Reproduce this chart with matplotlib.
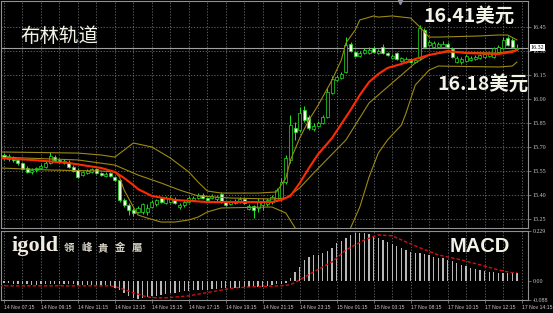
import matplotlib
matplotlib.use('Agg')
import matplotlib.pyplot as plt
from matplotlib.patches import Rectangle

# 15 minute candles, index 0 = 14 Nov 07:15
opens = [15.650, 15.625, 15.637, 15.619, 15.600, 15.569, 15.544, 15.556, 15.569, 15.575,
         15.600, 15.637, 15.619, 15.600, 15.606, 15.575, 15.556, 15.525, 15.537, 15.544,
         15.562, 15.537, 15.519, 15.537, 15.512, 15.494, 15.369, 15.337, 15.306, 15.294,
         15.294, 15.294, 15.325, 15.344, 15.381, 15.350, 15.356, 15.375, 15.325, 15.337,
         15.356, 15.369, 15.381, 15.400, 15.381, 15.381, 15.375, 15.406, 15.362, 15.344,
         15.350, 15.356, 15.375, 15.312, 15.331, 15.319, 15.337, 15.344, 15.356, 15.369,
         15.381, 15.481, 15.619, 15.819, 15.806, 15.931, 15.887, 15.812, 15.831, 15.850,
         15.887, 16.037, 16.119, 16.131, 16.169, 16.344, 16.294, 16.269, 16.287, 16.287,
         16.319, 16.287, 16.325, 16.287, 16.256, 16.287, 16.237, 16.231, 16.250, 16.231,
         16.256, 16.431, 16.337, 16.325, 16.325, 16.325, 16.344, 16.312, 16.231, 16.231,
         16.237, 16.244, 16.250, 16.256, 16.262, 16.269, 16.262, 16.294, 16.319, 16.381,
         16.369, 16.312]
highs = [15.662, 15.656, 15.644, 15.631, 15.606, 15.581, 15.569, 15.575, 15.594, 15.612,
         15.669, 15.650, 15.631, 15.625, 15.619, 15.587, 15.569, 15.550, 15.562, 15.569,
         15.569, 15.544, 15.544, 15.544, 15.519, 15.500, 15.381, 15.350, 15.319, 15.331,
         15.350, 15.344, 15.369, 15.375, 15.387, 15.394, 15.394, 15.387, 15.350, 15.369,
         15.394, 15.394, 15.412, 15.412, 15.387, 15.406, 15.400, 15.419, 15.369, 15.369,
         15.375, 15.387, 15.387, 15.344, 15.337, 15.381, 15.381, 15.381, 15.400, 15.444,
         15.506, 15.650, 15.900, 15.856, 15.950, 15.956, 15.900, 15.850, 15.862, 15.900,
         16.069, 16.144, 16.150, 16.169, 16.387, 16.356, 16.300, 16.300, 16.319, 16.325,
         16.331, 16.312, 16.344, 16.294, 16.281, 16.294, 16.262, 16.262, 16.256, 16.256,
         16.462, 16.444, 16.369, 16.362, 16.356, 16.362, 16.356, 16.325, 16.269, 16.262,
         16.281, 16.269, 16.275, 16.281, 16.287, 16.294, 16.325, 16.337, 16.387, 16.394,
         16.381, 16.344]
lows = [15.619, 15.612, 15.606, 15.587, 15.556, 15.537, 15.531, 15.544, 15.562, 15.569,
        15.594, 15.612, 15.600, 15.594, 15.569, 15.544, 15.506, 15.519, 15.531, 15.537,
        15.531, 15.519, 15.512, 15.512, 15.487, 15.356, 15.325, 15.275, 15.269, 15.287,
        15.281, 15.275, 15.319, 15.331, 15.350, 15.344, 15.350, 15.344, 15.312, 15.325,
        15.350, 15.362, 15.375, 15.375, 15.362, 15.375, 15.362, 15.350, 15.331, 15.337,
        15.344, 15.350, 15.344, 15.306, 15.256, 15.294, 15.306, 15.331, 15.344, 15.362,
        15.369, 15.469, 15.600, 15.744, 15.794, 15.856, 15.806, 15.800, 15.825, 15.844,
        15.881, 16.031, 16.112, 16.125, 16.162, 16.294, 16.262, 16.262, 16.281, 16.281,
        16.287, 16.281, 16.281, 16.269, 16.250, 16.244, 16.231, 16.225, 16.225, 16.225,
        16.244, 16.319, 16.331, 16.319, 16.319, 16.319, 16.319, 16.256, 16.225, 16.219,
        16.231, 16.237, 16.244, 16.250, 16.256, 16.262, 16.256, 16.287, 16.312, 16.331,
        16.319, 16.306]
closes = [15.631, 15.644, 15.619, 15.600, 15.562, 15.544, 15.556, 15.569, 15.581, 15.600,
          15.644, 15.619, 15.606, 15.612, 15.575, 15.550, 15.512, 15.544, 15.550, 15.562,
          15.537, 15.525, 15.531, 15.519, 15.494, 15.369, 15.337, 15.306, 15.287, 15.319,
          15.344, 15.319, 15.356, 15.369, 15.356, 15.381, 15.381, 15.350, 15.337, 15.356,
          15.381, 15.381, 15.400, 15.381, 15.369, 15.394, 15.387, 15.356, 15.337, 15.356,
          15.362, 15.375, 15.350, 15.331, 15.306, 15.356, 15.356, 15.369, 15.387, 15.431,
          15.481, 15.631, 15.837, 15.794, 15.912, 15.869, 15.819, 15.831, 15.850, 15.887,
          16.044, 16.125, 16.137, 16.156, 16.337, 16.300, 16.269, 16.287, 16.306, 16.306,
          16.294, 16.300, 16.287, 16.275, 16.269, 16.250, 16.256, 16.250, 16.231, 16.244,
          16.444, 16.325, 16.356, 16.350, 16.344, 16.344, 16.325, 16.262, 16.256, 16.250,
          16.269, 16.256, 16.262, 16.275, 16.281, 16.287, 16.319, 16.325, 16.369, 16.337,
          16.325, 16.320]

# indicator lines, read as (candle index, value)
upper_idx = [-1, 16, 21, 24, 26, 28, 32, 36, 40, 42, 44, 47, 55, 59, 61, 62, 64, 66, 68,
             71, 73, 74, 76, 77, 80, 81, 84, 88, 90, 92, 94, 103, 107, 109, 111]
upper_val = [15.669, 15.662, 15.650, 15.637, 15.681, 15.725, 15.700, 15.631, 15.544, 15.481,
             15.425, 15.412, 15.412, 15.419, 15.506, 15.619, 15.756, 15.869, 15.962, 16.119,
             16.244, 16.350, 16.431, 16.494, 16.519, 16.512, 16.519, 16.506, 16.450, 16.387,
             16.387, 16.394, 16.400, 16.400, 16.369]
mid_idx = [-1, 16, 24, 29, 34, 38, 42, 49, 58, 61, 64, 67, 74, 79, 84, 89, 92, 96, 107, 111]
mid_val = [15.637, 15.619, 15.587, 15.525, 15.475, 15.431, 15.394, 15.381, 15.375, 15.381,
           15.444, 15.537, 15.744, 15.975, 16.100, 16.225, 16.275, 16.294, 16.287, 16.306]
lower_idx = [-1, 10, 21, 24, 25, 26, 28, 29, 31, 34, 37, 40, 42, 44, 47, 58, 61, 63, 66,
             70, 74, 75, 77, 79, 81, 83, 86, 87, 89, 92, 94, 107, 110, 111]
lower_val = [15.569, 15.556, 15.550, 15.544, 15.512, 15.431, 15.325, 15.275, 15.256, 15.231,
             15.231, 15.244, 15.262, 15.294, 15.319, 15.325, 15.287, 15.194, 15.119, 15.106,
             15.150, 15.194, 15.325, 15.512, 15.662, 15.744, 15.837, 15.912, 16.087, 16.181,
             16.206, 16.200, 16.206, 16.231]
ma_idx = [-1, 6, 14, 21, 24, 26, 28, 29, 32, 37, 44, 51, 58, 60, 62, 64, 66, 68, 71, 73,
          75, 77, 79, 81, 83, 86, 89, 92, 96, 100, 107, 110, 111]
ma_val = [15.631, 15.619, 15.600, 15.569, 15.544, 15.506, 15.462, 15.437, 15.394, 15.369,
          15.356, 15.356, 15.356, 15.369, 15.394, 15.475, 15.569, 15.656, 15.756, 15.844,
          15.931, 16.025, 16.106, 16.156, 16.194, 16.219, 16.250, 16.275, 16.300, 16.287,
          16.281, 16.294, 16.306]

macd_hist = [-0.012, -0.012, -0.013, -0.014, -0.015, -0.016, -0.017, -0.017, -0.016, -0.015,
             -0.013, -0.013, -0.014, -0.014, -0.015, -0.016, -0.018, -0.019, -0.019, -0.019,
             -0.019, -0.020, -0.021, -0.022, -0.032, -0.041, -0.055, -0.069, -0.078, -0.083,
             -0.078, -0.074, -0.071, -0.069, -0.064, -0.060, -0.055, -0.055, -0.050, -0.048,
             -0.046, -0.041, -0.041, -0.041, -0.041, -0.039, -0.037, -0.035, -0.033, -0.032,
             -0.032, -0.031, -0.030, -0.030, -0.030, -0.028, -0.026, -0.023, -0.018, -0.016,
             -0.014, -0.009, 0.014, 0.041, 0.064, 0.096, 0.110, 0.119, 0.119, 0.129,
             0.138, 0.152, 0.175, 0.184, 0.198, 0.211, 0.220, 0.220, 0.220, 0.216,
             0.207, 0.198, 0.188, 0.179, 0.170, 0.161, 0.152, 0.142, 0.133, 0.129,
             0.129, 0.124, 0.119, 0.110, 0.106, 0.106, 0.096, 0.092, 0.083, 0.074,
             0.069, 0.060, 0.055, 0.050, 0.046, 0.041, 0.041, 0.037, 0.037, 0.037,
             0.037, 0.037]
signal_idx = [-1, 23, 25, 28, 31, 33, 35, 40, 45, 50, 53, 60, 62, 64, 67, 71, 74, 78, 81,
              84, 87, 90, 94, 99, 103, 107, 110, 111]
signal_val = [-0.023, -0.023, -0.032, -0.055, -0.074, -0.078, -0.078, -0.069, -0.050, -0.032,
              -0.028, -0.023, -0.018, 0.005, 0.041, 0.087, 0.142, 0.188, 0.211, 0.207,
              0.179, 0.152, 0.119, 0.096, 0.074, 0.050, 0.037, 0.037]

time_labels = ['14 Nov 07:15', '14 Nov 09:15', '14 Nov 11:15', '14 Nov 13:15',
               '14 Nov 15:15', '14 Nov 17:15', '14 Nov 19:15', '14 Nov 21:15',
               '14 Nov 23:15', '15 Nov 01:15', '15 Nov 03:15', '17 Nov 08:15',
               '17 Nov 10:15', '17 Nov 12:15', '17 Nov 14:15']
price_ticks = [16.45, 16.30, 16.15, 16.00, 15.85, 15.70, 15.55, 15.40, 15.25]
macd_ticks = [0.229, 0.0, -0.088]
macd_tick_labels = ['0.229', '0.00', '-0.088']

W, H = 553, 313
BAND = '#9c8a12'
GRID = '#6a7078'
CANDLE = '#22e622'
TXT = '#c8c8c8'
cjk = ['Noto Sans CJK SC', 'DejaVu Sans']

fig = plt.figure(figsize=(W / 100, H / 100), dpi=100, facecolor='black')
ax = fig.add_axes([1 / W, (H - 228) / H, 527 / W, 227 / H], facecolor='black')
ax2 = fig.add_axes([1 / W, (H - 300) / H, 527 / W, 69 / H], facecolor='black')

xmin, xmax = -0.65, 113.4
for a in (ax, ax2):
    a.set_xlim(xmin, xmax)
    for s in a.spines.values():
        s.set_color('#909090')
        s.set_linewidth(0.8)
    for k in range(0, 116, 4):
        a.axvline(k, color=GRID, lw=0.6, ls=(0, (1.5, 2)), zorder=0)
    a.yaxis.tick_right()
    a.tick_params(axis='y', length=2, width=0.5, color='#909090', labelcolor=TXT,
                  labelsize=4.3, pad=1.5)

ax.set_ylim(15.19375, 16.6125)
for p in price_ticks:
    ax.axhline(p, color=GRID, lw=0.6, ls=(0, (1.5, 2)), zorder=0)
ax.set_yticks(price_ticks)
ax.set_yticklabels(['%.2f' % p for p in price_ticks], family='Liberation Serif')
ax.set_xticks([])

# bands and moving average
ax.plot(upper_idx, upper_val, color=BAND, lw=0.8, zorder=3)
ax.plot(mid_idx, mid_val, color=BAND, lw=0.8, zorder=3)
ax.plot(lower_idx, lower_val, color=BAND, lw=0.8, zorder=3)
ax.plot(ma_idx, ma_val, color='#ff2a00', lw=1.5, zorder=4)

# candles
for i in range(len(closes)):
    o, h, l, c = opens[i], highs[i], lows[i], closes[i]
    ax.vlines(i, l, h, color=CANDLE, lw=0.7, zorder=2)
    body = abs(c - o)
    if body < 0.004:
        body = 0.004
    face = '#f4ffe8' if c < o else 'black'
    ax.add_patch(Rectangle((i - 0.33, min(o, c)), 0.66, body, facecolor=face,
                           edgecolor=CANDLE, lw=0.5, zorder=2.5))

# current bid line + label
ax.axhline(closes[-1], color='#a0a0a0', lw=0.8, zorder=1)
ax.text(1.005, closes[-1], '%.2f' % closes[-1], transform=ax.get_yaxis_transform(),
        fontsize=4.3, family='Liberation Serif', color='black', va='center', ha='left',
        bbox=dict(boxstyle='square,pad=0.15', facecolor='white', edgecolor='none'),
        zorder=10, clip_on=False)
ax.plot([0.757], [0.995], marker='v', color='#9090a0', ms=3, transform=ax.transAxes,
        clip_on=False)

# MACD panel
ax2.set_ylim(-0.088, 0.229)
ax2.bar(range(len(macd_hist)), macd_hist, width=0.28, color='#b8b8b8', zorder=2)
ax2.plot(signal_idx, signal_val, color='#d01010', lw=1.0, ls=(0, (2.5, 1.5)), zorder=3)
ax2.set_yticks(macd_ticks)
ax2.set_yticklabels(macd_tick_labels, family='Liberation Serif')
ax2.set_xticks(range(0, 8 * len(time_labels), 8))
ax2.set_xticklabels(time_labels, family='Liberation Sans')
ax2.tick_params(axis='x', length=2, width=0.5, color='#909090', labelcolor=TXT,
                labelsize=3.7, pad=1.5)
for lbl in ax2.get_xticklabels():
    lbl.set_ha('left')

# annotations
fig.text(20 / W, 1 - 36 / H, '布林轨道', family=cjk, fontsize=14, color='#f2f2e6',
         va='center', ha='left')
fig.text(423 / W, 1 - 16 / H, '16.41美元', family=cjk, fontsize=14, fontweight='bold',
         color='#f2f2e6', va='center', ha='left')
fig.text(437 / W, 1 - 84 / H, '16.18美元', family=cjk, fontsize=14, fontweight='bold',
         color='#f2f2e6', va='center', ha='left')
fig.text(450 / W, 1 - 247 / H, 'MACD', family='Liberation Sans', fontsize=14.5,
         fontweight='bold', color='#f2f2e6', va='center', ha='left')
fig.text(12 / W, 1 - 246 / H, 'igold', family='Liberation Serif', fontsize=16,
         fontweight='bold', color='#f0ece0', va='center', ha='left')
for k, ch in enumerate('領峰貴金屬'):
    fig.text((64 + 17 * k) / W, 1 - 248 / H, ch, family=['Noto Sans CJK TC', 'DejaVu Sans'],
             fontsize=7.5, fontweight='bold', color='#d8d4c8', va='center', ha='left')

fig.savefig('out.png', dpi=100, facecolor='black')
